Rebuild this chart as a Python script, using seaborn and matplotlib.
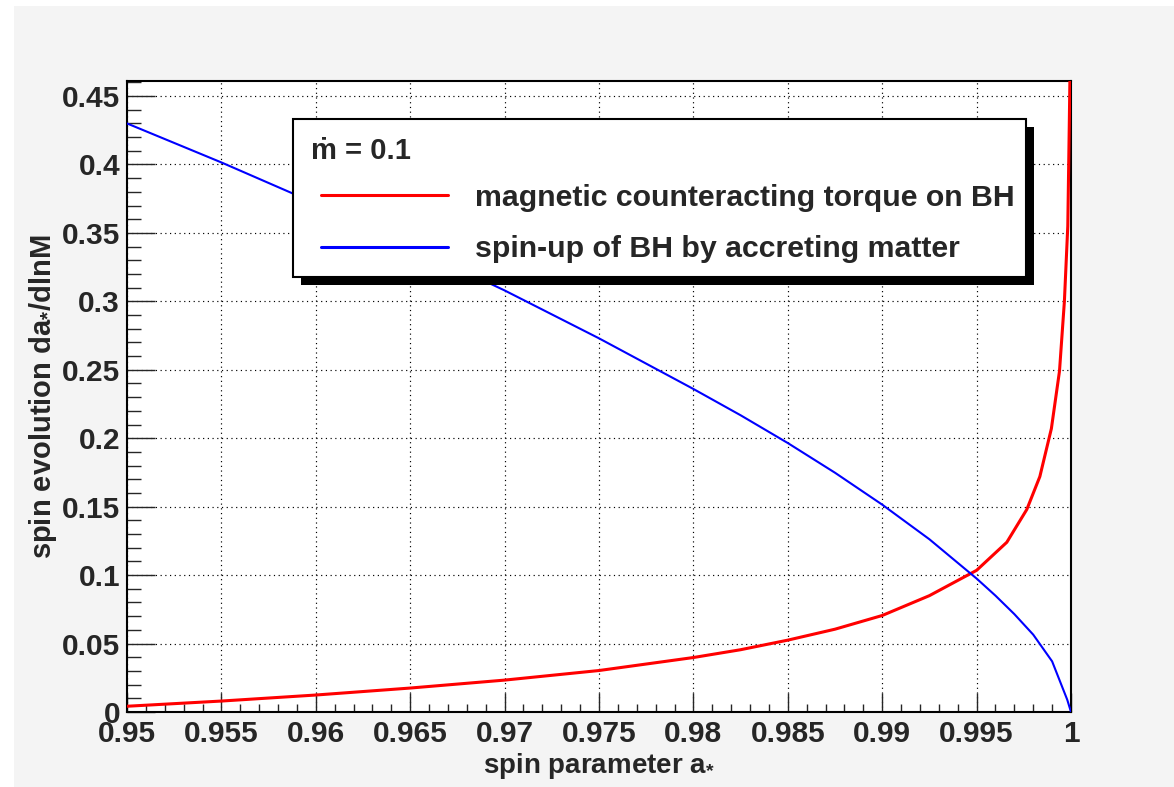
import numpy as np
import pandas as pd
import matplotlib
matplotlib.use("Agg")
import matplotlib.pyplot as plt
import seaborn as sns
from matplotlib.patches import Rectangle
from matplotlib.ticker import MultipleLocator

# ---- data ----
spin_red = [0.950, 0.955, 0.960, 0.965, 0.970, 0.975, 0.980, 0.9825, 0.985,
            0.9875, 0.990, 0.9925, 0.995, 0.9966, 0.99766, 0.99835, 0.99896,
            0.99939, 0.99965, 0.99983, 0.99991, 0.99996]
torque_red = [0.0042, 0.0080, 0.0124, 0.0175, 0.0233, 0.0303, 0.0398, 0.0455,
              0.0525, 0.0605, 0.0705, 0.0850, 0.1035, 0.1240, 0.1480, 0.1720,
              0.2070, 0.2490, 0.3000, 0.3550, 0.4300, 0.4800]

spin_blue = [0.950, 0.955, 0.960, 0.965, 0.970, 0.975, 0.980, 0.9825, 0.985,
             0.9875, 0.990, 0.9925, 0.995, 0.996, 0.997, 0.998, 0.999, 0.9995,
             0.9998, 1.000]
spinup_blue = [0.430, 0.4015, 0.3715, 0.3405, 0.3080, 0.2730, 0.2360, 0.2168,
               0.1965, 0.1748, 0.1515, 0.1262, 0.0975, 0.0850, 0.0715, 0.0565,
               0.0370, 0.0195, 0.0090, 0.0]

series_names = ["magnetic counteracting torque on BH",
                "spin-up of BH by accreting matter"]
legend_header = "\u1e41 = 0.1"

x_ticks = [0.95, 0.955, 0.96, 0.965, 0.97, 0.975, 0.98, 0.985, 0.99, 0.995, 1.0]
x_tick_labels = ["0.95", "0.955", "0.96", "0.965", "0.97", "0.975", "0.98",
                 "0.985", "0.99", "0.995", "1"]
y_ticks = [0, 0.05, 0.1, 0.15, 0.2, 0.25, 0.3, 0.35, 0.4, 0.45]
y_tick_labels = ["0", "0.05", "0.1", "0.15", "0.2", "0.25", "0.3", "0.35",
                 "0.4", "0.45"]

x_label = "spin parameter a$_{*}$"
y_label = "spin evolution da$_{*}$/dlnM"

# ---- style ----
sns.set_theme(style="ticks")
plt.rcParams["font.family"] = ["Liberation Sans", "DejaVu Sans"]
plt.rcParams["font.weight"] = "bold"
plt.rcParams["mathtext.fontset"] = "custom"
plt.rcParams["mathtext.rm"] = "Liberation Sans:bold"
plt.rcParams["mathtext.it"] = "Liberation Sans:bold"
plt.rcParams["mathtext.bf"] = "Liberation Sans:bold"
plt.rcParams["mathtext.default"] = "rm"

W, H = 1174, 787
fig = plt.figure(figsize=(W / 100, H / 100), dpi=100, facecolor="white")
fig.patches.append(Rectangle((14 / W, 0), 1, (H - 6) / H, transform=fig.transFigure,
                             facecolor="#f4f4f4", edgecolor="none", zorder=-10))

ax_l, ax_r, ax_t, ax_b = 127, 1071, 81, 712
ax = fig.add_axes([ax_l / W, 1 - ax_b / H, (ax_r - ax_l) / W, (ax_b - ax_t) / H])
ax.set_facecolor("white")

df_red = pd.DataFrame({"a": spin_red, "v": torque_red})
df_blue = pd.DataFrame({"a": spin_blue, "v": spinup_blue})
sns.lineplot(data=df_red, x="a", y="v", color="#ff0000", linewidth=2.2,
             estimator=None, sort=False, ax=ax, label=series_names[0], zorder=3)
sns.lineplot(data=df_blue, x="a", y="v", color="#0000ff", linewidth=1.5,
             estimator=None, sort=False, ax=ax, label=series_names[1], zorder=4)

ax.set_xlim(0.95, 1.0)
ax.set_ylim(0, 0.461)
ax.set_xticks(x_ticks, x_tick_labels)
ax.set_yticks(y_ticks, y_tick_labels)
ax.xaxis.set_minor_locator(MultipleLocator(0.001))
ax.yaxis.set_minor_locator(MultipleLocator(0.01))

ax.tick_params(axis="x", which="major", direction="in", length=14, width=1.0,
               labelsize=21.5, pad=6, top=False)
ax.tick_params(axis="x", which="minor", direction="in", length=6, width=1.0, top=False)
ax.tick_params(axis="y", which="major", direction="in", length=20, width=1.0,
               labelsize=21.5, pad=5, right=False)
ax.tick_params(axis="y", which="minor", direction="in", length=10, width=1.0, right=False)
for lab in ax.get_xticklabels() + ax.get_yticklabels():
    lab.set_fontweight("bold")

ax.grid(which="major", color="black", linestyle=(0, (1, 3)), linewidth=0.85)
for sp in ax.spines.values():
    sp.set_color("black")
    sp.set_linewidth(1.5)

ax.set_xlabel(x_label, fontsize=20, fontweight="bold")
ax.set_ylabel(y_label, fontsize=21, fontweight="bold")
ax.xaxis.set_label_coords(0.5, -0.062)
ax.yaxis.set_label_coords(-0.072, 0.5)

# ---- legend box with ROOT-like shadow ----
def px2ax(x, y):
    return ((x - ax_l) / (ax_r - ax_l), (ax_b - y) / (ax_b - ax_t))

bx0, by0 = px2ax(293, 277)
bx1, by1 = px2ax(1026, 119)
sh = 8
sx0, sy0 = px2ax(293 + sh, 277 + sh)
ax.add_patch(Rectangle((sx0, sy0), bx1 - bx0, by1 - by0, transform=ax.transAxes,
                       facecolor="black", edgecolor="black", lw=0, zorder=10,
                       clip_on=False))
ax.add_patch(Rectangle((bx0, by0), bx1 - bx0, by1 - by0, transform=ax.transAxes,
                       facecolor="white", edgecolor="black", lw=1.5, zorder=11,
                       clip_on=False))
hx, hy = px2ax(311, 151)
ax.text(hx, hy, legend_header, transform=ax.transAxes, fontsize=21,
        fontweight="bold", ha="left", va="center", zorder=12)

lx, ly = px2ax(321, 183.5)
leg = ax.legend(loc="upper left", bbox_to_anchor=(lx, ly), frameon=False,
                fontsize=21.8, handlelength=4.2, handletextpad=0.88,
                labelspacing=0.79, borderpad=0, borderaxespad=0)
leg.set_zorder(12)
for t in leg.get_texts():
    t.set_fontweight("bold")
for h in leg.get_lines():
    h.set_linewidth(2.2)

fig.savefig("out.png", dpi=100, facecolor=fig.get_facecolor())
